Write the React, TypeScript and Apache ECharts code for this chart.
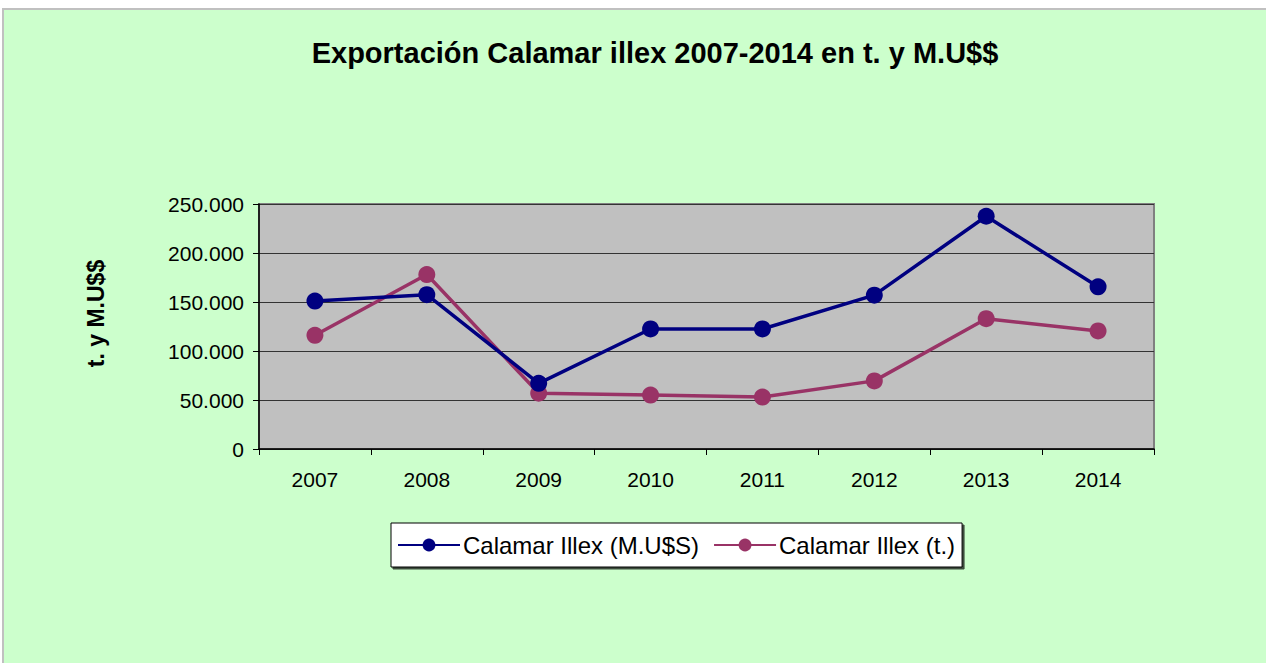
import React, { useEffect, useRef } from "react";
import * as echarts from "echarts";

const years = ["2007", "2008", "2009", "2010", "2011", "2012", "2013", "2014"];
const valueMUS = [151000, 157500, 67000, 122500, 122500, 157000, 237500, 165500];
const tons = [116000, 178000, 57000, 55000, 53000, 69500, 133000, 120500];
const seriesNames = ["Calamar Illex (M.U$S)", "Calamar Illex (t.)"];

const fmt = (v: number) => String(v).replace(/\B(?=(\d{3})+(?!\d))/g, ".");

export default function App() {
  const ref = useRef<HTMLDivElement>(null);
  useEffect(() => {
    const chart = echarts.init(ref.current!, null, { renderer: "svg" });
    const font = "Liberation Sans, Arial, sans-serif";
    chart.setOption({
      animation: false,
      backgroundColor: "#ffffff",
      graphic: [
        {
          type: "rect",
          shape: { x: 3, y: 9, width: 1270, height: 660 },
          style: { fill: "#CCFFCC", stroke: "#C0C0C0", lineWidth: 2 },
          z: -10,
          silent: true,
        },
      ],
      title: {
        text: "Exportación Calamar illex 2007-2014 en t. y M.U$$",
        left: 650,
        textAlign: "center",
        top: 33,
        textStyle: { fontFamily: font, fontSize: 29, fontWeight: "bold", color: "#000" },
      },
      grid: {
        left: 259,
        top: 204,
        width: 895,
        height: 245,
        show: true,
        backgroundColor: "#C0C0C0",
        borderColor: "#808080",
        borderWidth: 2,
      },
      xAxis: {
        type: "category",
        data: years,
        boundaryGap: true,
        axisLine: { lineStyle: { color: "#000", width: 1.5 } },
        axisTick: { show: true, length: 6, lineStyle: { color: "#000" } },
        axisLabel: { fontFamily: font, fontSize: 21, color: "#000", margin: 20 },
        splitLine: { show: false },
      },
      yAxis: {
        type: "value",
        min: 0,
        max: 250000,
        interval: 50000,
        name: "t. y M.U$$",
        nameLocation: "middle",
        nameGap: 152,
        nameRotate: 90,
        nameTextStyle: { fontFamily: font, fontSize: 23, fontWeight: "bold", color: "#000", padding: [0, 0, 0, 26] },
        axisLine: { show: true, lineStyle: { color: "#000", width: 1.5 } },
        axisTick: { show: true, length: 6, lineStyle: { color: "#000" } },
        axisLabel: { fontFamily: font, fontSize: 21, color: "#000", margin: 15, formatter: (v: number) => fmt(v) },
        splitLine: { show: true, lineStyle: { color: "#333333", width: 1.2 } },
      },
      legend: {
        left: 391,
        top: 523,
        width: 700,
        itemWidth: 62,
        itemHeight: 16,
        itemGap: 14,
        padding: [10, 7, 10, 6],
        backgroundColor: "#ffffff",
        borderColor: "#000",
        borderWidth: 1,
        borderRadius: 0,
        shadowColor: "rgba(0,0,0,0.7)",
        shadowOffsetX: 2,
        shadowOffsetY: 2,
        shadowBlur: 0,
        textStyle: { fontFamily: font, fontSize: 24, color: "#000", padding: [0, 0, 0, -2] },
        data: seriesNames,
      },
      series: [
        {
          name: seriesNames[0],
          type: "line",
          data: valueMUS,
          color: "#000080",
          symbol: "circle",
          symbolSize: 17,
          lineStyle: { width: 3.5, color: "#000080" },
          itemStyle: { color: "#000080" },
          z: 3,
        },
        {
          name: seriesNames[1],
          type: "line",
          data: tons,
          color: "#993366",
          symbol: "circle",
          symbolSize: 17,
          lineStyle: { width: 3.5, color: "#993366" },
          itemStyle: { color: "#993366" },
          z: 2,
        },
      ],
    });
    return () => chart.dispose();
  }, []);
  return (
    <div
      ref={ref}
      style={{ position: "fixed", left: 0, top: 0, width: 1266, height: 663 }}
    />
  );
}
